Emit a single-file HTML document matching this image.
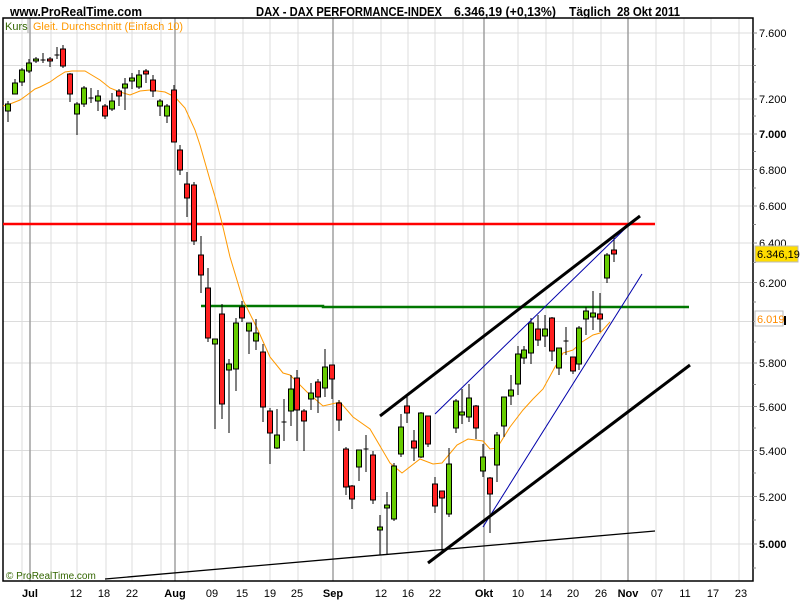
<!DOCTYPE html>
<html><head><meta charset="utf-8"><style>
html,body{margin:0;padding:0;background:#fff;}
svg{display:block;}
text{font-family:"Liberation Sans",sans-serif;}
</style></head><body>
<svg width="800" height="600" viewBox="0 0 800 600" xmlns="http://www.w3.org/2000/svg">
<rect width="800" height="600" fill="#fff"/>
<!-- header -->
<text x="10" y="16" font-size="13" font-weight="bold" textLength="132" lengthAdjust="spacingAndGlyphs">www.ProRealTime.com</text>
<text x="256" y="16" font-size="13" font-weight="bold" textLength="186" lengthAdjust="spacingAndGlyphs">DAX - DAX PERFORMANCE-INDEX</text>
<text x="454" y="16" font-size="13" font-weight="bold" textLength="102" lengthAdjust="spacingAndGlyphs">6.346,19 (+0,13%)</text>
<text x="569" y="16" font-size="13" font-weight="bold" textLength="42" lengthAdjust="spacingAndGlyphs">Täglich</text>
<text x="617" y="16" font-size="13" font-weight="bold" textLength="63" lengthAdjust="spacingAndGlyphs">28 Okt 2011</text>
<!-- horizontal grid -->
<g stroke="#dcdcdc" stroke-width="1">
<line x1="3" x2="753" y1="33" y2="33"/><line x1="3" x2="753" y1="65.5" y2="65.5"/><line x1="3" x2="753" y1="99" y2="99"/>
<line x1="3" x2="753" y1="134" y2="134"/><line x1="3" x2="753" y1="169.5" y2="169.5"/><line x1="3" x2="753" y1="206" y2="206"/>
<line x1="3" x2="753" y1="243" y2="243"/><line x1="3" x2="753" y1="282.5" y2="282.5"/><line x1="3" x2="753" y1="321.5" y2="321.5"/>
<line x1="3" x2="753" y1="363" y2="363"/><line x1="3" x2="753" y1="406.5" y2="406.5"/><line x1="3" x2="753" y1="450.5" y2="450.5"/>
<line x1="3" x2="753" y1="496.5" y2="496.5"/><line x1="3" x2="753" y1="544" y2="544"/>
</g>
<!-- vertical grid -->
<g stroke="#dcdcdc" stroke-width="1">
<line x1="22" x2="22" y1="18" y2="581"/><line x1="51" x2="51" y1="18" y2="581"/><line x1="77" x2="77" y1="18" y2="581"/>
<line x1="106" x2="106" y1="18" y2="581"/><line x1="132" x2="132" y1="18" y2="581"/><line x1="161" x2="161" y1="18" y2="581"/>
<line x1="188" x2="188" y1="18" y2="581"/><line x1="215" x2="215" y1="18" y2="581"/><line x1="243" x2="243" y1="18" y2="581"/>
<line x1="270" x2="270" y1="18" y2="581"/><line x1="298" x2="298" y1="18" y2="581"/><line x1="353" x2="353" y1="18" y2="581"/>
<line x1="381" x2="381" y1="18" y2="581"/><line x1="408" x2="408" y1="18" y2="581"/><line x1="435" x2="435" y1="18" y2="581"/>
<line x1="463" x2="463" y1="18" y2="581"/><line x1="518" x2="518" y1="18" y2="581"/><line x1="546" x2="546" y1="18" y2="581"/>
<line x1="573" x2="573" y1="18" y2="581"/><line x1="601" x2="601" y1="18" y2="581"/><line x1="656" x2="656" y1="18" y2="581"/>
<line x1="684" x2="684" y1="18" y2="581"/><line x1="711" x2="711" y1="18" y2="581"/><line x1="739" x2="739" y1="18" y2="581"/>
</g>
<g stroke="#a0a0a0" stroke-width="1.5">
<line x1="30" x2="30" y1="18" y2="581"/><line x1="175" x2="175" y1="18" y2="581"/><line x1="333" x2="333" y1="18" y2="581"/>
<line x1="484" x2="484" y1="18" y2="581"/><line x1="628" x2="628" y1="18" y2="581"/>
</g>
<!-- frame -->
<rect x="3" y="18" width="750" height="563" fill="none" stroke="#000" stroke-width="1.5"/>
<!-- right axis ticks -->
<g stroke="#888" stroke-width="1">
<line x1="753" x2="757" y1="33" y2="33"/><line x1="753" x2="756" y1="49" y2="49"/><line x1="753" x2="756" y1="65.5" y2="65.5"/><line x1="753" x2="756" y1="82" y2="82"/>
<line x1="753" x2="757" y1="99" y2="99"/><line x1="753" x2="756" y1="116" y2="116"/><line x1="753" x2="757" y1="134" y2="134"/><line x1="753" x2="756" y1="151.5" y2="151.5"/>
<line x1="753" x2="757" y1="169.5" y2="169.5"/><line x1="753" x2="756" y1="188" y2="188"/><line x1="753" x2="757" y1="206" y2="206"/><line x1="753" x2="756" y1="224.5" y2="224.5"/>
<line x1="753" x2="757" y1="243" y2="243"/><line x1="753" x2="756" y1="262.5" y2="262.5"/><line x1="753" x2="757" y1="282.5" y2="282.5"/><line x1="753" x2="756" y1="302" y2="302"/>
<line x1="753" x2="757" y1="321.5" y2="321.5"/><line x1="753" x2="756" y1="342" y2="342"/><line x1="753" x2="757" y1="363" y2="363"/><line x1="753" x2="756" y1="384.5" y2="384.5"/>
<line x1="753" x2="757" y1="406.5" y2="406.5"/><line x1="753" x2="756" y1="428" y2="428"/><line x1="753" x2="757" y1="450.5" y2="450.5"/><line x1="753" x2="756" y1="473" y2="473"/>
<line x1="753" x2="757" y1="496.5" y2="496.5"/><line x1="753" x2="756" y1="520" y2="520"/><line x1="753" x2="757" y1="544" y2="544"/><line x1="753" x2="756" y1="568" y2="568"/>
</g>
<g font-size="11" fill="#000">
<text x="759" y="37">7.600</text><text x="759" y="103">7.200</text><text x="759" y="138" font-weight="bold">7.000</text>
<text x="759" y="174">6.800</text><text x="759" y="210">6.600</text><text x="759" y="247">6.400</text>
<text x="759" y="287">6.200</text><text x="759" y="367">5.800</text><text x="759" y="411">5.600</text>
<text x="759" y="455">5.400</text><text x="759" y="501">5.200</text><text x="759" y="548" font-weight="bold">5.000</text>
</g>
<rect x="755" y="246" width="43" height="16" fill="#ffdd00" stroke="#bbb"/>
<text x="757" y="258" font-size="11">6.346,19</text>
<rect x="755" y="311" width="28" height="15" fill="#fff" stroke="#bbb"/>
<text x="757" y="323" font-size="11" fill="#ff8c00">6.019</text>
<rect x="784" y="316" width="2" height="9" fill="#000"/>
<!-- legend -->
<text x="5" y="30" font-size="11" fill="#336600">Kurs</text>
<line x1="28" x2="28" y1="19" y2="33" stroke="#aaa"/>
<text x="33" y="30" font-size="11" fill="#ff9900" textLength="150" lengthAdjust="spacingAndGlyphs">Gleit. Durchschnitt (Einfach 10)</text>
<text x="6" y="579" font-size="10" fill="#336600">© ProRealTime.com</text>
<!-- date labels -->
<g font-size="11" text-anchor="middle">
<text x="30" y="597" font-weight="bold">Jul</text><text x="76" y="597">12</text><text x="104" y="597">18</text><text x="132" y="597">22</text>
<text x="175" y="597" font-weight="bold">Aug</text><text x="212" y="597">09</text><text x="242" y="597">15</text><text x="270" y="597">19</text><text x="297" y="597">25</text>
<text x="333" y="597" font-weight="bold">Sep</text><text x="381" y="597">12</text><text x="408" y="597">16</text><text x="435" y="597">22</text>
<text x="484" y="597" font-weight="bold">Okt</text><text x="518" y="597">10</text><text x="546" y="597">14</text><text x="573" y="597">20</text><text x="601" y="597">26</text>
<text x="628" y="597" font-weight="bold">Nov</text><text x="657" y="597">07</text><text x="685" y="597">11</text><text x="713" y="597">17</text><text x="741" y="597">23</text>
</g>
<!-- horizontal support/resistance -->
<line x1="3" x2="655" y1="224" y2="224" stroke="#ff0000" stroke-width="2.5"/>
<polyline points="201,306 323,306 323,307 689,307" fill="none" stroke="#007700" stroke-width="2.5"/>
<!-- MA -->
<polyline fill="none" stroke="#ff9900" stroke-width="1" points="3,106 10,104 20,100 27,95 35,89 40,87 50,82 57,77 65,72 72,71 85,71 100,80 110,88 120,92 130,95 140,91 150,90 165,92 175,97 185,108 195,130 200,145 210,180 216,200 222,223 230,257 243,300 257,328 270,357 283,373 290,375 307,392 323,406 340,402 353,417 370,429 390,463 402,473 420,459 433,464 442,463 457,445 468,439 483,441 490,449 497,448 510,427 523,410 533,399 543,389 555,367 563,353 573,350 582,342 593,335 600,333 610,322"/>
<!-- candles -->
<g stroke="#000" stroke-width="1">
<line x1="8" x2="8" y1="101" y2="122"/><rect x="5.5" y="104" width="5" height="7" fill="#66cc00"/>
<line x1="15" x2="15" y1="79" y2="94"/><rect x="12.5" y="83" width="5" height="11" fill="#66cc00"/>
<line x1="22" x2="22" y1="68" y2="86"/><rect x="19.5" y="70" width="5" height="12" fill="#66cc00"/>
<line x1="29" x2="29" y1="59" y2="73"/><rect x="26.5" y="63" width="5" height="8" fill="#66cc00"/>
<line x1="36" x2="36" y1="57" y2="63"/><rect x="33.5" y="59" width="5" height="2" fill="#66cc00"/>
<line x1="43" x2="43" y1="53" y2="63"/><line x1="40.5" x2="45.5" y1="60" y2="60"/>
<line x1="50" x2="50" y1="57" y2="67"/><rect x="47.5" y="59" width="5" height="2" fill="#ff2020"/>
<line x1="57" x2="57" y1="47" y2="59"/><line x1="54.5" x2="59.5" y1="55" y2="55"/>
<line x1="63" x2="63" y1="45" y2="68"/><rect x="60.5" y="49" width="5" height="17" fill="#ff2020"/>
<line x1="70" x2="70" y1="73" y2="102"/><rect x="67.5" y="74" width="5" height="20" fill="#ff2020"/>
<line x1="77" x2="77" y1="102" y2="135"/><rect x="74.5" y="104" width="5" height="10" fill="#66cc00"/>
<line x1="84" x2="84" y1="86" y2="107"/><rect x="81.5" y="88" width="5" height="16" fill="#66cc00"/>
<line x1="91" x2="91" y1="88" y2="103"/><line x1="88.5" x2="93.5" y1="98" y2="98"/>
<line x1="98" x2="98" y1="90" y2="111"/><rect x="95.5" y="96" width="5" height="5" fill="#66cc00"/>
<line x1="105" x2="105" y1="104" y2="119"/><rect x="102.5" y="106" width="5" height="10" fill="#ff2020"/>
<line x1="112" x2="112" y1="93" y2="111"/><rect x="109.5" y="101" width="5" height="8" fill="#66cc00"/>
<line x1="119" x2="119" y1="89" y2="106"/><rect x="116.5" y="91" width="5" height="5" fill="#ff2020"/>
<line x1="125" x2="125" y1="78" y2="110"/><rect x="122.5" y="84" width="5" height="4" fill="#66cc00"/>
<line x1="132" x2="132" y1="73" y2="89"/><rect x="129.5" y="78" width="5" height="3" fill="#66cc00"/>
<line x1="139" x2="139" y1="70" y2="89"/><rect x="136.5" y="75" width="5" height="12" fill="#66cc00"/>
<line x1="146" x2="146" y1="69" y2="83"/><rect x="143.5" y="71" width="5" height="3" fill="#ff2020"/>
<line x1="153" x2="153" y1="75" y2="97"/><rect x="150.5" y="80" width="5" height="11" fill="#ff2020"/>
<line x1="160" x2="160" y1="99" y2="116"/><rect x="157.5" y="101" width="5" height="5" fill="#66cc00"/>
<line x1="167" x2="167" y1="104" y2="123"/><rect x="164.5" y="106" width="5" height="10" fill="#66cc00"/>
<line x1="174" x2="174" y1="85" y2="142"/><rect x="171.5" y="90" width="5" height="52" fill="#ff2020"/>
<line x1="180" x2="180" y1="145" y2="175"/><rect x="177.5" y="150" width="5" height="20" fill="#ff2020"/>
<line x1="187" x2="187" y1="172" y2="217"/><rect x="184.5" y="184" width="5" height="14" fill="#ff2020"/>
<line x1="194" x2="194" y1="182" y2="245"/><rect x="191.5" y="185" width="5" height="56" fill="#ff2020"/>
<line x1="201" x2="201" y1="236" y2="293"/><rect x="198.5" y="255" width="5" height="20" fill="#ff2020"/>
<line x1="208" x2="208" y1="268" y2="342"/><rect x="205.5" y="288" width="5" height="50" fill="#ff2020"/>
<line x1="215" x2="215" y1="339" y2="429"/><rect x="212.5" y="339" width="5" height="5" fill="#66cc00"/>
<line x1="222" x2="222" y1="304" y2="419"/><rect x="219.5" y="314" width="5" height="90" fill="#ff2020"/>
<line x1="229" x2="229" y1="359" y2="433"/><rect x="226.5" y="364" width="5" height="6" fill="#66cc00"/>
<line x1="236" x2="236" y1="318" y2="391"/><rect x="233.5" y="323" width="5" height="46" fill="#66cc00"/>
<line x1="242" x2="242" y1="301" y2="322"/><rect x="239.5" y="307" width="5" height="11" fill="#ff2020"/>
<line x1="249" x2="249" y1="323" y2="354"/><rect x="246.5" y="323" width="5" height="8" fill="#66cc00"/>
<line x1="256" x2="256" y1="319" y2="350"/><rect x="253.5" y="333" width="5" height="8" fill="#66cc00"/>
<line x1="263" x2="263" y1="344" y2="422"/><rect x="260.5" y="352" width="5" height="55" fill="#ff2020"/>
<line x1="270" x2="270" y1="408" y2="464"/><rect x="267.5" y="411" width="5" height="22" fill="#ff2020"/>
<line x1="277" x2="277" y1="409" y2="449"/><rect x="274.5" y="435" width="5" height="13" fill="#66cc00"/>
<line x1="284" x2="284" y1="399" y2="441"/><line x1="281.5" x2="286.5" y1="422" y2="422"/>
<line x1="291" x2="291" y1="375" y2="426"/><rect x="288.5" y="389" width="5" height="22" fill="#66cc00"/>
<line x1="297" x2="297" y1="370" y2="441"/><rect x="294.5" y="378" width="5" height="32" fill="#ff2020"/>
<line x1="304" x2="304" y1="409" y2="451"/><rect x="301.5" y="411" width="5" height="10" fill="#ff2020"/>
<line x1="311" x2="311" y1="383" y2="410"/><rect x="308.5" y="393" width="5" height="6" fill="#66cc00"/>
<line x1="318" x2="318" y1="379" y2="413"/><rect x="315.5" y="382" width="5" height="15" fill="#ff2020"/>
<line x1="325" x2="325" y1="349" y2="397"/><rect x="322.5" y="367" width="5" height="21" fill="#66cc00"/>
<line x1="332" x2="332" y1="365" y2="399"/><rect x="329.5" y="365" width="5" height="14" fill="#ff2020"/>
<line x1="339" x2="339" y1="400" y2="431"/><rect x="336.5" y="403" width="5" height="17" fill="#ff2020"/>
<line x1="346" x2="346" y1="447" y2="495"/><rect x="343.5" y="449" width="5" height="38" fill="#ff2020"/>
<line x1="352" x2="352" y1="485" y2="509"/><rect x="349.5" y="486" width="5" height="13" fill="#ff2020"/>
<line x1="359" x2="359" y1="450" y2="481"/><rect x="356.5" y="450" width="5" height="17" fill="#66cc00"/>
<line x1="366" x2="366" y1="435" y2="472"/><line x1="363.5" x2="368.5" y1="449" y2="449"/>
<line x1="373" x2="373" y1="451" y2="504"/><rect x="370.5" y="455" width="5" height="45" fill="#ff2020"/>
<line x1="380" x2="380" y1="515" y2="555"/><rect x="377.5" y="527" width="5" height="3" fill="#66cc00"/>
<line x1="387" x2="387" y1="492" y2="554"/><rect x="384.5" y="505" width="5" height="3" fill="#66cc00"/>
<line x1="394" x2="394" y1="463" y2="521"/><rect x="391.5" y="466" width="5" height="53" fill="#66cc00"/>
<line x1="401" x2="401" y1="414" y2="457"/><rect x="398.5" y="427" width="5" height="27" fill="#66cc00"/>
<line x1="407" x2="407" y1="394" y2="423"/><rect x="404.5" y="406" width="5" height="7" fill="#ff2020"/>
<line x1="414" x2="414" y1="430" y2="461"/><rect x="411.5" y="441" width="5" height="7" fill="#ff2020"/>
<line x1="421" x2="421" y1="412" y2="458"/><rect x="418.5" y="413" width="5" height="44" fill="#66cc00"/>
<line x1="428" x2="428" y1="416" y2="447"/><rect x="425.5" y="416" width="5" height="28" fill="#ff2020"/>
<line x1="435" x2="435" y1="477" y2="513"/><rect x="432.5" y="484" width="5" height="22" fill="#ff2020"/>
<line x1="442" x2="442" y1="491" y2="553"/><rect x="439.5" y="491" width="5" height="7" fill="#ff2020"/>
<line x1="449" x2="449" y1="448" y2="517"/><rect x="446.5" y="464" width="5" height="50" fill="#66cc00"/>
<line x1="456" x2="456" y1="399" y2="433"/><rect x="453.5" y="401" width="5" height="27" fill="#66cc00"/>
<line x1="462" x2="462" y1="389" y2="424"/><rect x="459.5" y="412" width="5" height="3" fill="#66cc00"/>
<line x1="469" x2="469" y1="384" y2="422"/><rect x="466.5" y="398" width="5" height="19" fill="#66cc00"/>
<line x1="476" x2="476" y1="405" y2="439"/><rect x="473.5" y="406" width="5" height="22" fill="#ff2020"/>
<line x1="483" x2="483" y1="444" y2="477"/><rect x="480.5" y="457" width="5" height="14" fill="#66cc00"/>
<line x1="490" x2="490" y1="477" y2="533"/><rect x="487.5" y="478" width="5" height="16" fill="#ff2020"/>
<line x1="497" x2="497" y1="432" y2="482"/><rect x="494.5" y="435" width="5" height="30" fill="#66cc00"/>
<line x1="504" x2="504" y1="397" y2="437"/><rect x="501.5" y="397" width="5" height="29" fill="#66cc00"/>
<line x1="511" x2="511" y1="375" y2="405"/><rect x="508.5" y="390" width="5" height="6" fill="#66cc00"/>
<line x1="518" x2="518" y1="346" y2="395"/><rect x="515.5" y="354" width="5" height="30" fill="#66cc00"/>
<line x1="524" x2="524" y1="346" y2="364"/><rect x="521.5" y="350" width="5" height="8" fill="#66cc00"/>
<line x1="531" x2="531" y1="318" y2="364"/><rect x="528.5" y="323" width="5" height="30" fill="#66cc00"/>
<line x1="538" x2="538" y1="315" y2="346"/><rect x="535.5" y="329" width="5" height="11" fill="#ff2020"/>
<line x1="545" x2="545" y1="315" y2="347"/><rect x="542.5" y="329" width="5" height="7" fill="#66cc00"/>
<line x1="552" x2="552" y1="317" y2="361"/><rect x="549.5" y="318" width="5" height="33" fill="#ff2020"/>
<line x1="559" x2="559" y1="348" y2="375"/><rect x="556.5" y="348" width="5" height="20" fill="#66cc00"/>
<line x1="566" x2="566" y1="327" y2="355"/><line x1="563.5" x2="568.5" y1="341" y2="341"/>
<line x1="573" x2="573" y1="357" y2="374"/><rect x="570.5" y="357" width="5" height="14" fill="#ff2020"/>
<line x1="579" x2="579" y1="326" y2="370"/><rect x="576.5" y="328" width="5" height="36" fill="#66cc00"/>
<line x1="586" x2="586" y1="307" y2="335"/><rect x="583.5" y="311" width="5" height="8" fill="#66cc00"/>
<line x1="593" x2="593" y1="291" y2="330"/><rect x="590.5" y="313" width="5" height="4" fill="#66cc00"/>
<line x1="600" x2="600" y1="293" y2="332"/><rect x="597.5" y="314" width="5" height="5" fill="#ff2020"/>
<line x1="607" x2="607" y1="253" y2="283"/><rect x="604.5" y="255" width="5" height="23" fill="#66cc00"/>
<line x1="614" x2="614" y1="237" y2="262"/><rect x="611.5" y="250" width="5" height="4" fill="#ff2020"/>
</g>
<!-- trend lines -->
<line x1="105" y1="579" x2="655" y2="531" stroke="#000" stroke-width="1.3"/>
<line x1="435" y1="414" x2="636" y2="218" stroke="#0000aa" stroke-width="1"/>
<line x1="483" y1="527" x2="642" y2="274" stroke="#0000aa" stroke-width="1"/>
<line x1="380" y1="416" x2="640" y2="216" stroke="#000" stroke-width="3"/>
<line x1="428" y1="563" x2="690" y2="365" stroke="#000" stroke-width="3"/>
</svg>
</body></html>
